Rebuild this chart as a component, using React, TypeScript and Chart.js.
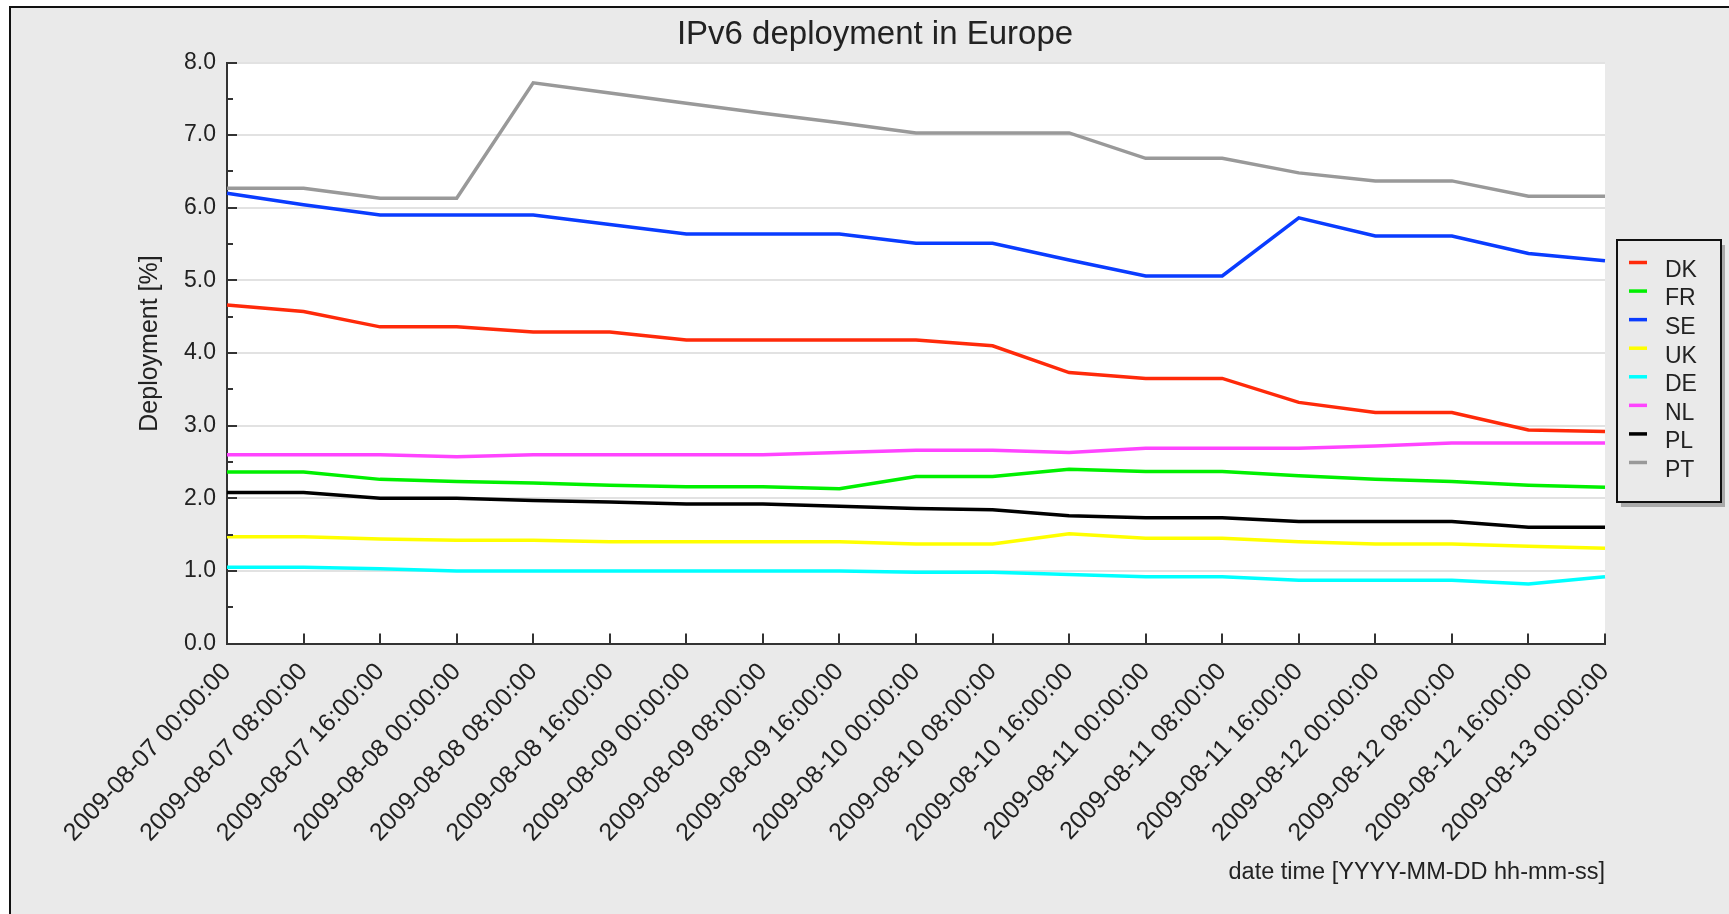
import React, { useEffect, useRef } from 'react';
import { Chart, registerables } from 'chart.js';

Chart.register(...registerables);

const timeLabels = [
  '2009-08-07 00:00:00', '2009-08-07 08:00:00', '2009-08-07 16:00:00',
  '2009-08-08 00:00:00', '2009-08-08 08:00:00', '2009-08-08 16:00:00',
  '2009-08-09 00:00:00', '2009-08-09 08:00:00', '2009-08-09 16:00:00',
  '2009-08-10 00:00:00', '2009-08-10 08:00:00', '2009-08-10 16:00:00',
  '2009-08-11 00:00:00', '2009-08-11 08:00:00', '2009-08-11 16:00:00',
  '2009-08-12 00:00:00', '2009-08-12 08:00:00', '2009-08-12 16:00:00',
  '2009-08-13 00:00:00',
];

const DK = [4.66, 4.57, 4.36, 4.36, 4.29, 4.29, 4.18, 4.18, 4.18, 4.18, 4.10, 3.73, 3.65, 3.65, 3.32, 3.18, 3.18, 2.94, 2.92];
const FR = [2.36, 2.36, 2.26, 2.23, 2.21, 2.18, 2.16, 2.16, 2.13, 2.30, 2.30, 2.40, 2.37, 2.37, 2.31, 2.26, 2.23, 2.18, 2.15];
const SE = [6.20, 6.04, 5.90, 5.90, 5.90, 5.77, 5.64, 5.64, 5.64, 5.51, 5.51, 5.28, 5.06, 5.06, 5.86, 5.61, 5.61, 5.37, 5.27];
const UK = [1.47, 1.47, 1.44, 1.42, 1.42, 1.40, 1.40, 1.40, 1.40, 1.37, 1.37, 1.51, 1.45, 1.45, 1.40, 1.37, 1.37, 1.34, 1.31];
const DE = [1.05, 1.05, 1.03, 1.00, 1.00, 1.00, 1.00, 1.00, 1.00, 0.98, 0.98, 0.95, 0.92, 0.92, 0.87, 0.87, 0.87, 0.82, 0.92];
const NL = [2.60, 2.60, 2.60, 2.57, 2.60, 2.60, 2.60, 2.60, 2.63, 2.66, 2.66, 2.63, 2.69, 2.69, 2.69, 2.72, 2.76, 2.76, 2.76];
const PL = [2.08, 2.08, 2.00, 2.00, 1.97, 1.95, 1.92, 1.92, 1.89, 1.86, 1.84, 1.76, 1.73, 1.73, 1.68, 1.68, 1.68, 1.60, 1.60];
const PT = [6.27, 6.27, 6.13, 6.13, 7.72, 7.58, 7.44, 7.30, 7.17, 7.03, 7.03, 7.03, 6.68, 6.68, 6.48, 6.37, 6.37, 6.16, 6.16];

const seriesNames = ['DK', 'FR', 'SE', 'UK', 'DE', 'NL', 'PL', 'PT'];
const seriesValues = [DK, FR, SE, UK, DE, NL, PL, PT];
const seriesColors = ['#ff2a0a', '#00f000', '#0a3cff', '#ffff00', '#00ffff', '#ff44ff', '#000000', '#999999'];

const chartTitle = 'IPv6 deployment in Europe';
const yAxisTitle = 'Deployment [%]';
const xAxisTitle = 'date time [YYYY-MM-DD hh-mm-ss]';
const yMin = 0;
const yMax = 8;
const yStep = 1;

const FONT = '"Liberation Sans", Arial, Helvetica, sans-serif';
const TEXT = '#222222';
const BG = '#eaeaea';

const decorPlugin = {
  id: 'decor',
  beforeDraw(chart: any) {
    const { ctx, width, height, chartArea } = chart;
    ctx.save();
    ctx.fillStyle = '#ffffff';
    ctx.fillRect(0, 0, width, height);
    ctx.fillStyle = BG;
    ctx.fillRect(10, 7, width - 10, height - 7);
    ctx.strokeStyle = '#111111';
    ctx.lineWidth = 2;
    ctx.beginPath();
    ctx.moveTo(10, height);
    ctx.lineTo(10, 7);
    ctx.lineTo(width, 7);
    ctx.stroke();
    ctx.fillStyle = '#ffffff';
    ctx.fillRect(chartArea.left, chartArea.top, chartArea.right - chartArea.left, chartArea.bottom - chartArea.top);
    ctx.restore();
  },
  afterDraw(chart: any) {
    const { ctx, chartArea } = chart;
    const xs = chart.scales.x;
    const ys = chart.scales.y;
    ctx.save();
    // inward ticks
    ctx.strokeStyle = '#333333';
    ctx.lineWidth = 2;
    for (let v = yMin; v <= yMax + 1e-9; v += yStep / 2) {
      const y = Math.round(ys.getPixelForValue(v));
      const major = Math.abs(v - Math.round(v)) < 1e-9;
      const len = major ? 10 : 6;
      ctx.beginPath();
      ctx.moveTo(chartArea.left, y);
      ctx.lineTo(chartArea.left + len, y);
      ctx.stroke();
    }
    for (let i = 1; i < timeLabels.length; i++) {
      const x = Math.round(xs.getPixelForValue(i));
      ctx.beginPath();
      ctx.moveTo(x, chartArea.bottom);
      ctx.lineTo(x, chartArea.bottom - 10);
      ctx.stroke();
    }

    // title
    ctx.fillStyle = TEXT;
    ctx.font = `33px ${FONT}`;
    ctx.textAlign = 'center';
    ctx.textBaseline = 'alphabetic';
    ctx.fillText(chartTitle, 875, 44);

    // y axis title
    ctx.save();
    ctx.font = `25px ${FONT}`;
    ctx.translate(157, 343.5);
    ctx.rotate(-Math.PI / 2);
    ctx.textAlign = 'center';
    ctx.textBaseline = 'alphabetic';
    ctx.fillText(yAxisTitle, 0, 0);
    ctx.restore();

    // x axis title
    ctx.font = `23.5px ${FONT}`;
    ctx.textAlign = 'right';
    ctx.textBaseline = 'alphabetic';
    ctx.fillText(xAxisTitle, chartArea.right, 879);

    // legend
    const lx = 1617, ly = 240, lw = 104, lh = 262;
    ctx.fillStyle = '#aaaaaa';
    ctx.fillRect(lx + 4, ly + 5, lw, lh);
    ctx.fillStyle = BG;
    ctx.fillRect(lx, ly, lw, lh);
    ctx.strokeStyle = '#111111';
    ctx.lineWidth = 2;
    ctx.strokeRect(lx, ly, lw, lh);
    ctx.font = `23px ${FONT}`;
    ctx.textAlign = 'left';
    chart.data.datasets.forEach((ds: any, k: number) => {
      const my = 262.5 + k * 28.57;
      ctx.strokeStyle = ds.borderColor;
      ctx.lineWidth = 3.5;
      ctx.beginPath();
      ctx.moveTo(1629, my);
      ctx.lineTo(1647, my);
      ctx.stroke();
      ctx.fillStyle = TEXT;
      ctx.fillText(ds.label, 1665, my + 14.4);
    });
    ctx.restore();
  },
};

export default function App() {
  const ref = useRef<HTMLCanvasElement | null>(null);

  useEffect(() => {
    document.body.style.margin = '0';
    const canvas = ref.current;
    if (!canvas) return;
    const chart = new Chart(canvas, {
      type: 'line',
      data: {
        labels: timeLabels,
        datasets: seriesNames.map((name, k) => ({
          label: name,
          data: seriesValues[k],
          borderColor: seriesColors[k],
          backgroundColor: seriesColors[k],
          borderWidth: 3.5,
          pointRadius: 0,
          pointHoverRadius: 0,
          tension: 0,
          fill: false,
        })),
      },
      options: {
        animation: false,
        responsive: false,
        devicePixelRatio: 1,
        events: [],
        layout: { padding: { left: 0, top: 62.5, right: 124, bottom: 0 } },
        plugins: {
          legend: { display: false },
          title: { display: false },
          tooltip: { enabled: false },
        },
        scales: {
          x: {
            type: 'category',
            offset: false,
            grid: { display: true, color: 'rgba(0,0,0,0)', drawTicks: false },
            border: { display: true, color: '#333333', width: 2 },
            ticks: {
              autoSkip: false,
              maxRotation: 47,
              minRotation: 47,
              padding: 14,
              color: TEXT,
              font: { family: FONT, size: 25 },
            },
            afterFit: (scale: any) => { scale.height = 914 - 643.5; },
          },
          y: {
            min: yMin,
            max: yMax,
            grid: { color: '#e2e2e2', lineWidth: 2, drawTicks: false },
            border: { display: true, color: '#333333', width: 2 },
            ticks: {
              stepSize: yStep,
              padding: 11,
              color: TEXT,
              font: { family: FONT, size: 23 },
              callback: (v: any) => Number(v).toFixed(1),
            },
            afterFit: (scale: any) => { scale.width = 227; },
          },
        },
      },
      plugins: [decorPlugin],
    } as any);
    return () => chart.destroy();
  }, []);

  return <canvas ref={ref} width={1729} height={914} style={{ display: 'block' }} />;
}
